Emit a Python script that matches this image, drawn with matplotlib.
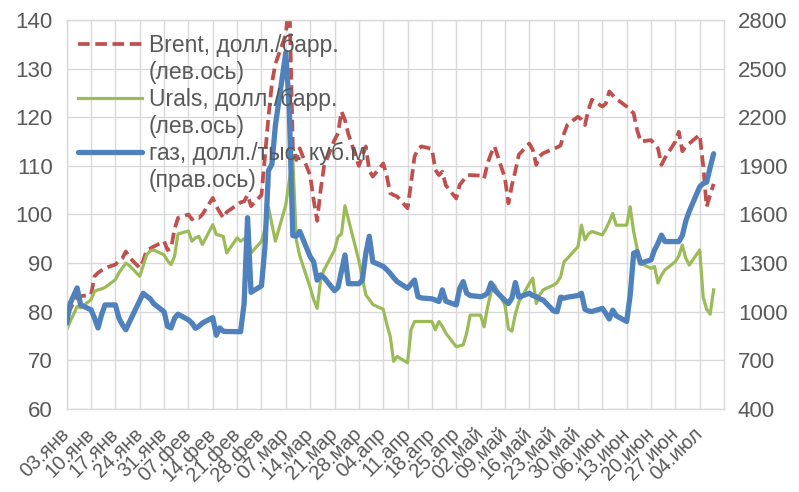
import matplotlib
matplotlib.use('Agg')
import matplotlib.pyplot as plt
from matplotlib.lines import Line2D
from matplotlib.transforms import ScaledTranslation
import pandas as pd

plt.rcParams['font.family'] = ['Liberation Sans', 'DejaVu Sans']

# business days 03.01.2022 - 08.07.2022
dates = pd.bdate_range('2022-01-03', '2022-07-08')

brent = [
    79.5, 80.5, 82.0, 83.0, 83.2,
    83.5, 87.3, 88.0, 88.5, 89.0,
    89.7, 90.5, 91.0, 92.4, 91.2,
    89.0, 90.5, 92.7, 93.0, 93.4,
    94.5, 92.7, 93.0, 97.0, 99.3,
    100.0, 99.0, 99.5, 99.3, 100.0,
    103.4, 101.7, 100.5, 99.3, 100.5,
    102.0, 102.5, 102.7, 104.0, 101.7,
    104.0, 112.0, 120.0, 127.0, 131.0,
    137.0, 145.0, 114.0, 111.2, 113.6,
    108.0, 103.0, 98.7, 105.0, 110.0,
    115.3, 116.7, 121.2, 119.4, 116.5,
    110.0, 112.0, 114.0, 109.0, 107.8,
    110.5, 108.0, 104.4, 104.0, 103.7,
    101.3, 106.4, 111.9, 113.5, 114.0,
    113.5, 109.2, 108.1, 108.8, 106.0,
    103.3, 106.1, 107.0, 108.0, 108.1,
    108.0, 107.4, 110.5, 112.5, 114.0,
    107.5, 102.3, 106.0, 109.0, 112.3,
    114.6, 113.3, 110.2, 112.0, 112.6,
    113.5, 113.8, 114.2, 116.7, 118.5,
    120.1, 119.5, 118.4, 121.5, 123.6,
    122.2, 122.8, 125.3, 124.5, 123.8,
    122.2, 121.5, 120.8, 117.4, 115.0,
    115.3, 114.5, 113.6, 110.2, 111.6,
    115.0, 117.0, 113.0, 114.0, 114.6,
    116.4, 110.0, 101.6, 104.0, 106.3,
]

urals = [
    76.3, 78.0, 79.5, 81.1, 80.8,
    82.5, 84.2, 84.5, 84.7, 85.0,
    86.6, 88.0, 89.0, 90.0, 89.5,
    87.3, 89.5, 91.7, 92.5, 92.7,
    91.7, 90.5, 89.7, 91.4, 96.0,
    96.6, 94.5, 95.2, 95.5, 93.8,
    97.9, 95.9, 95.7, 95.5, 92.1,
    95.2, 94.5, 95.0, 95.5, 92.1,
    94.5, 97.0, 101.5, 98.0, 94.5,
    102.0, 107.0, 111.5, 94.8, 91.5,
    85.0, 82.5, 80.7, 86.5, 88.6,
    92.7, 95.4, 96.0, 101.8, 99.0,
    90.5, 87.0, 83.5, 82.5, 81.5,
    80.5, 77.5, 75.0, 69.8, 70.8,
    69.5, 76.3, 78.0, 78.0, 78.0,
    78.0, 76.3, 78.0, 77.0, 75.6,
    72.8, 73.0, 73.2, 75.6, 79.3,
    79.3, 76.9, 81.0, 84.0, 85.5,
    81.4, 76.5, 76.0, 79.5, 82.0,
    85.8, 86.9, 81.7, 83.5, 84.5,
    85.5, 86.0, 87.2, 90.3, 91.0,
    93.4, 97.8, 94.8, 96.0, 96.5,
    95.8, 97.0, 98.5, 100.2, 97.8,
    97.8, 101.6, 96.5, 93.0, 90.0,
    88.9, 89.3, 85.9, 87.5, 88.6,
    90.3, 91.5, 93.7, 91.0, 89.6,
    92.7, 83.0, 80.5, 79.5, 84.5,
]

gas = [
    931, 1051, 1100, 1147, 1042,
    1012, 960, 900, 980, 1042,
    1042, 961, 920, 889, 935,
    1070, 1114, 1096, 1080, 1050,
    1000, 910, 900, 960, 985,
    950, 930, 898, 910, 930,
    964, 855, 900, 880, 878,
    877, 877, 1050, 1580, 1120,
    1160, 1400, 1870, 1910, 2150,
    2600, 2250, 1470, 1466, 1496,
    1340, 1308, 1195, 1227, 1210,
    1130, 1150, 1250, 1350, 1173,
    1173, 1196, 1361, 1466, 1308,
    1280, 1260, 1237, 1210, 1186,
    1145, 1170, 1196, 1093, 1085,
    1080, 1072, 1063, 1135, 1065,
    1042, 1145, 1186, 1114, 1100,
    1093, 1100, 1114, 1177, 1135,
    1070, 1051, 1084, 1180, 1090,
    1114, 1100, 1093, 1080, 1072,
    1005, 1000, 1090, 1084, 1090,
    1100, 1114, 1015, 1005, 1001,
    1021, 990, 955, 1010, 975,
    940, 1100, 1361, 1371, 1300,
    1320, 1381, 1422, 1473, 1433,
    1433, 1433, 1470, 1560, 1620,
    1771, 1791, 1800, 1890, 1975,
]

tick_labels = ['03.янв', '10.янв', '17.янв', '24.янв', '31.янв', '07.фев', '14.фев',
               '21.фев', '28.фев', '07.мар', '14.мар', '21.мар', '28.мар', '04.апр',
               '11.апр', '18.апр', '25.апр', '02.май', '09.май', '16.май', '23.май',
               '30.май', '06.июн', '13.июн', '20.июн', '27.июн', '04.июл']
tick_dates = pd.date_range('2022-01-03', periods=len(tick_labels), freq='7D')

left_ticks = list(range(60, 141, 10))
right_ticks = list(range(400, 2801, 300))

legend_labels = ['Brent, долл./барр.', '(лев.ось)', 'Urals, долл./барр.', '(лев.ось)',
                 'газ, долл./тыс. куб.м', '(прав.ось)']

TXT = '#595959'
GRID = '#d9d9d9'
RED = '#C0504D'
GREEN = '#9BBB59'
BLUE = '#4F81BD'

fig = plt.figure(figsize=(7.99, 4.92), dpi=100)
ax1 = fig.add_axes([0.0835, 0.1687, 0.8227, 0.7907])
ax2 = ax1.twinx()

l_brent, = ax1.plot(dates, brent, color=RED, lw=2.7, dashes=(3.1, 1.5))
l_urals, = ax1.plot(dates, urals, color=GREEN, lw=2.3, solid_joinstyle='round')
l_gas, = ax2.plot(dates, gas, color=BLUE, lw=3.8, solid_joinstyle='round',
                  solid_capstyle='round')

ax1.set_xlim(pd.Timestamp('2022-01-03'), pd.Timestamp('2022-07-11'))
ax1.set_ylim(60, 140)
ax2.set_ylim(400, 2800)
ax1.set_yticks(left_ticks)
ax2.set_yticks(right_ticks)
ax1.set_xticks(tick_dates)
ax1.set_xticklabels(tick_labels, rotation=45, ha='right', va='center',
                    rotation_mode='anchor', fontsize=14.5, color=TXT)
shift = ScaledTranslation(5 / 100, 0, fig.dpi_scale_trans)
for lab in ax1.get_xticklabels():
    lab.set_transform(lab.get_transform() + shift)

ax1.grid(True, color=GRID, lw=1)
ax1.set_axisbelow(True)
for sp in ax1.spines.values():
    sp.set_color(GRID)
    sp.set_linewidth(1)
for sp in ax2.spines.values():
    sp.set_visible(False)

ax1.tick_params(axis='y', length=0, pad=10, labelsize=16, labelcolor=TXT)
ax1.tick_params(axis='x', length=0, pad=16, labelcolor=TXT)
ax2.tick_params(axis='y', length=0, pad=10, labelsize=16, labelcolor=TXT)

blank = Line2D([], [], color='none')
leg = ax2.legend([l_brent, blank, l_urals, blank, l_gas, blank], legend_labels,
                 loc='upper left', bbox_to_anchor=(0.017, 0.965), frameon=False,
                 fontsize=16.5, handlelength=2.8, handletextpad=0.3,
                 labelspacing=0.17, borderaxespad=0, borderpad=0)
for t in leg.get_texts():
    t.set_color(TXT)

fig.savefig('out.png', dpi=100)
